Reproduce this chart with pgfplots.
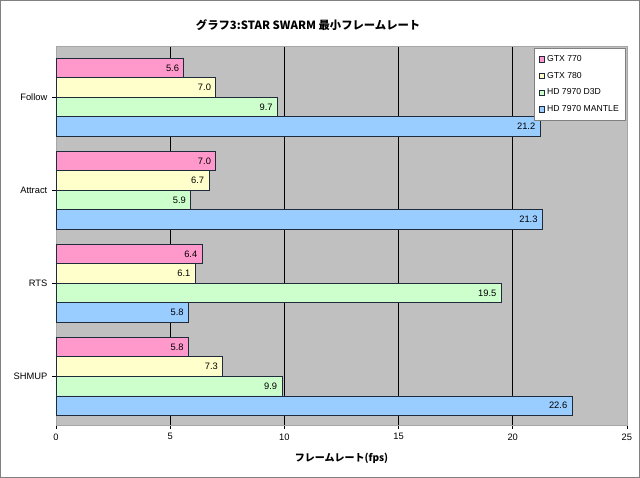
\documentclass[border=0pt]{standalone}
\usepackage{pgfplots}
\pgfplotsset{compat=1.18}
\usepackage{fontspec}
\setmainfont{Liberation Sans}
\newfontfamily\jp{Noto Sans CJK JP}
\definecolor{cpink}{HTML}{FF99CC}
\definecolor{cyel}{HTML}{FFFFCC}
\definecolor{cgreen}{HTML}{CCFFCC}
\definecolor{cblue}{HTML}{99CCFF}
\definecolor{bgray}{HTML}{C0C0C0}
\definecolor{edge}{HTML}{1F2A3A}
\begin{document}
\begin{tikzpicture}
\begin{axis}[
  name=ax,
  scale only axis,
  width=428pt, height=284pt,
  xbar=0pt,
  bar width=0.21,
  y dir=reverse,
  xmin=0, xmax=25,
  ymin=-0.55, ymax=3.52,
  xtick={0,5,...,25},
  ytick={0,1,2,3},
  yticklabels={Follow,Attract,RTS,SHMUP},
  /pgf/number format/assume math mode=true,
  ticklabel style={font=\fontsize{7}{8}\selectfont},
  xmajorgrids,
  grid style={black, line width=0.6pt},
  axis background/.style={fill=bgray},
  axis line style={gray!70},
  tick style={black, line width=0.5pt},
  xtick align=outside, ytick align=outside,
  major tick length=3pt,
  xtick pos=bottom, ytick pos=left,
  title={\jp\bfseries\fontsize{8.5}{10}\selectfont グラフ3:STAR SWARM 最小フレームレート},
  title style={yshift=2pt, xshift=-25pt},
  xlabel={\jp\bfseries\fontsize{7.5}{9}\selectfont フレームレート(fps)},
  xlabel style={yshift=-3pt},
  nodes near coords,
  nodes near coords style={anchor=east, font=\fontsize{7}{8}\selectfont, /pgf/number format/.cd, fixed, fixed zerofill, precision=1, assume math mode=true},
  legend style={at={(0.998,0.994)}, anchor=north east, draw=gray, fill=white, font=\fontsize{6.5}{7.5}\selectfont, row sep=2.5pt, inner xsep=3pt, inner ysep=3pt, cells={anchor=west}},
  legend image code/.code={\draw[#1, draw=edge, line width=0.4pt] (0pt,-2pt) rectangle (4pt,2pt);},
  every axis plot/.append style={draw=edge, line width=0.7pt},
]
\addplot[fill=cpink, draw=edge] coordinates {(5.6,0) (7.0,1) (6.4,2) (5.8,3)};
\addplot[fill=cyel, draw=edge] coordinates {(7.0,0) (6.7,1) (6.1,2) (7.3,3)};
\addplot[fill=cgreen, draw=edge] coordinates {(9.7,0) (5.9,1) (19.5,2) (9.9,3)};
\addplot[fill=cblue, draw=edge] coordinates {(21.2,0) (21.3,1) (5.8,2) (22.6,3)};
\legend{GTX 770, GTX 780, HD 7970 D3D, HD 7970 MANTLE}
\end{axis}
\draw[gray, line width=0.6pt] ([shift={(-41.7pt,-39.5pt)}]ax.south west) rectangle ([shift={(9.5pt,34.2pt)}]ax.north east);
\end{tikzpicture}
\end{document}
